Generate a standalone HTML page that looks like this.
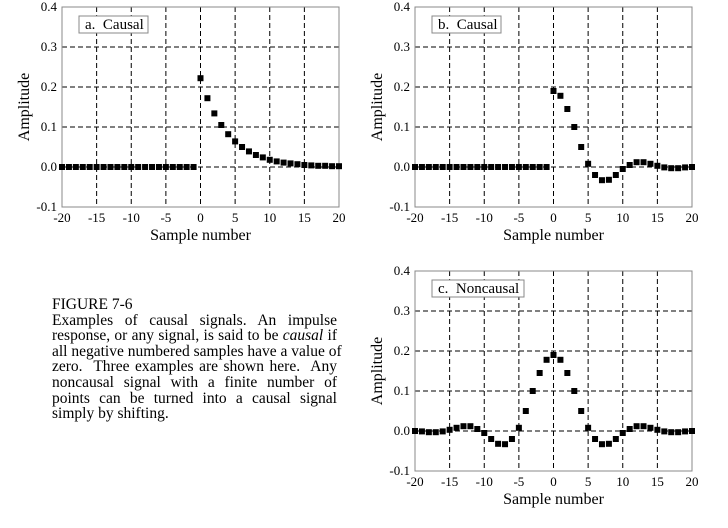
<!DOCTYPE html>
<html><head><meta charset="utf-8"><style>
body{margin:0;background:#fff;width:728px;height:528px;overflow:hidden;position:relative;font-family:"Liberation Serif",serif}
svg{position:absolute;left:0;top:0}
.cap{position:absolute;left:52px;top:297px;width:285px;font-size:15.5px;line-height:15.6px;color:#000}
.cap div{text-align:justify;text-align-last:justify;white-space:nowrap}
.cap div.l{text-align-last:left}
</style></head><body>
<svg width="728" height="528"></svg>
<div class="cap">
<div class="l">FIGURE 7-6</div>
<div>Examples of causal signals. An impulse</div>
<div>response, or any signal, is said to be <i>causal</i> if</div>
<div>all negative numbered samples have a value of</div>
<div>zero.&nbsp; Three examples are shown here.&nbsp; Any</div>
<div>noncausal signal with a finite number of</div>
<div>points can be turned into a causal signal</div>
<div class="l">simply by shifting.</div>
</div>
<script>
const samples=[];for(let n=-20;n<=20;n++)samples.push(n);
const seriesA=[0,0,0,0,0,0,0,0,0,0,0,0,0,0,0,0,0,0,0,0,0.222,0.172,0.134,0.105,0.082,0.064,0.050,0.039,0.030,0.024,0.018,0.014,0.011,0.009,0.007,0.005,0.004,0.003,0.003,0.002,0.002];
const seriesB=[0,0,0,0,0,0,0,0,0,0,0,0,0,0,0,0,0,0,0,0,0.19,0.178,0.145,0.10,0.05,0.008,-0.02,-0.033,-0.032,-0.02,-0.005,0.005,0.012,0.012,0.008,0.003,-0.001,-0.003,-0.003,-0.001,0];
const seriesC=[0,-0.001,-0.003,-0.003,-0.001,0.003,0.008,0.012,0.012,0.005,-0.005,-0.02,-0.032,-0.033,-0.02,0.008,0.05,0.10,0.145,0.178,0.19,0.178,0.145,0.10,0.05,0.008,-0.02,-0.033,-0.032,-0.02,-0.005,0.005,0.012,0.012,0.008,0.003,-0.001,-0.003,-0.003,-0.001,0];
const xTicks=[-20,-15,-10,-5,0,5,10,15,20];
const yTicks=[-0.1,0,0.1,0.2,0.3,0.4];
const titles=["a.\u00a0 Causal","b.\u00a0 Causal","c.\u00a0 Noncausal"];
const svg=document.querySelector('svg');const NS='http://www.w3.org/2000/svg';
function mk(t,a,p){const e=document.createElementNS(NS,t);for(const k in a)e.setAttribute(k,a[k]);(p||svg).appendChild(e);return e;}
function plot(L,T,data,title,id){
 const W=277,H=200;const g=mk('g',{});
 
 
 const x=v=>L+(v+20)/40*W, y=v=>T+(0.4-v)/0.5*H;
 xTicks.forEach(v=>{if(v>-20&&v<20){const l=mk('line',{x1:x(v),x2:x(v),y1:T,y2:T+H,stroke:'#000','stroke-width':1,'stroke-dasharray':'5,3'},g);}
  const t=mk('text',{x:x(v),y:T+H+15,'text-anchor':'middle','font-size':13,'font-family':'Liberation Serif'},g);t.textContent=v;});
 yTicks.forEach(v=>{if(v>-0.1&&v<0.4){const l=mk('line',{x1:L,x2:L+W,y1:y(v),y2:y(v),stroke:'#000','stroke-width':1,'stroke-dasharray':'5,3'},g);}
  const t=mk('text',{x:L-5,y:y(v)+4,'text-anchor':'end','font-size':13,'font-family':'Liberation Serif'},g);t.textContent=v.toFixed(1);});
 const f=mk('rect',{x:L,y:T,width:W,height:H,fill:'none',stroke:'#888','stroke-width':1},g);
 samples.forEach((n,i)=>{const r=mk('rect',{x:x(n)-3,y:y(data[i])-3,width:6,height:6,fill:'#000'},g);});
 const bg=mk('rect',{x:L+17,y:T+9,width:title.length>12?92:69,height:17,fill:'#fff',stroke:'#888'},g);
 const tt=mk('text',{x:L+23,y:T+22,'font-size':15,'font-family':'Liberation Serif'},g);tt.textContent=title;
 const xt=mk('text',{x:L+W/2,y:T+H+33,'text-anchor':'middle','font-size':16,'font-family':'Liberation Serif'},g);xt.textContent='Sample number';
 const yt=mk('text',{x:0,y:0,'text-anchor':'middle','font-size':16,'font-family':'Liberation Serif',transform:`translate(${L-33},${T+H/2}) rotate(-90)`},g);yt.textContent='Amplitude';
}
plot(62,7,seriesA,titles[0],'a');
plot(415,7,seriesB,titles[1],'b');
plot(415,271,seriesC,titles[2],'c');
</script>
</body></html>
